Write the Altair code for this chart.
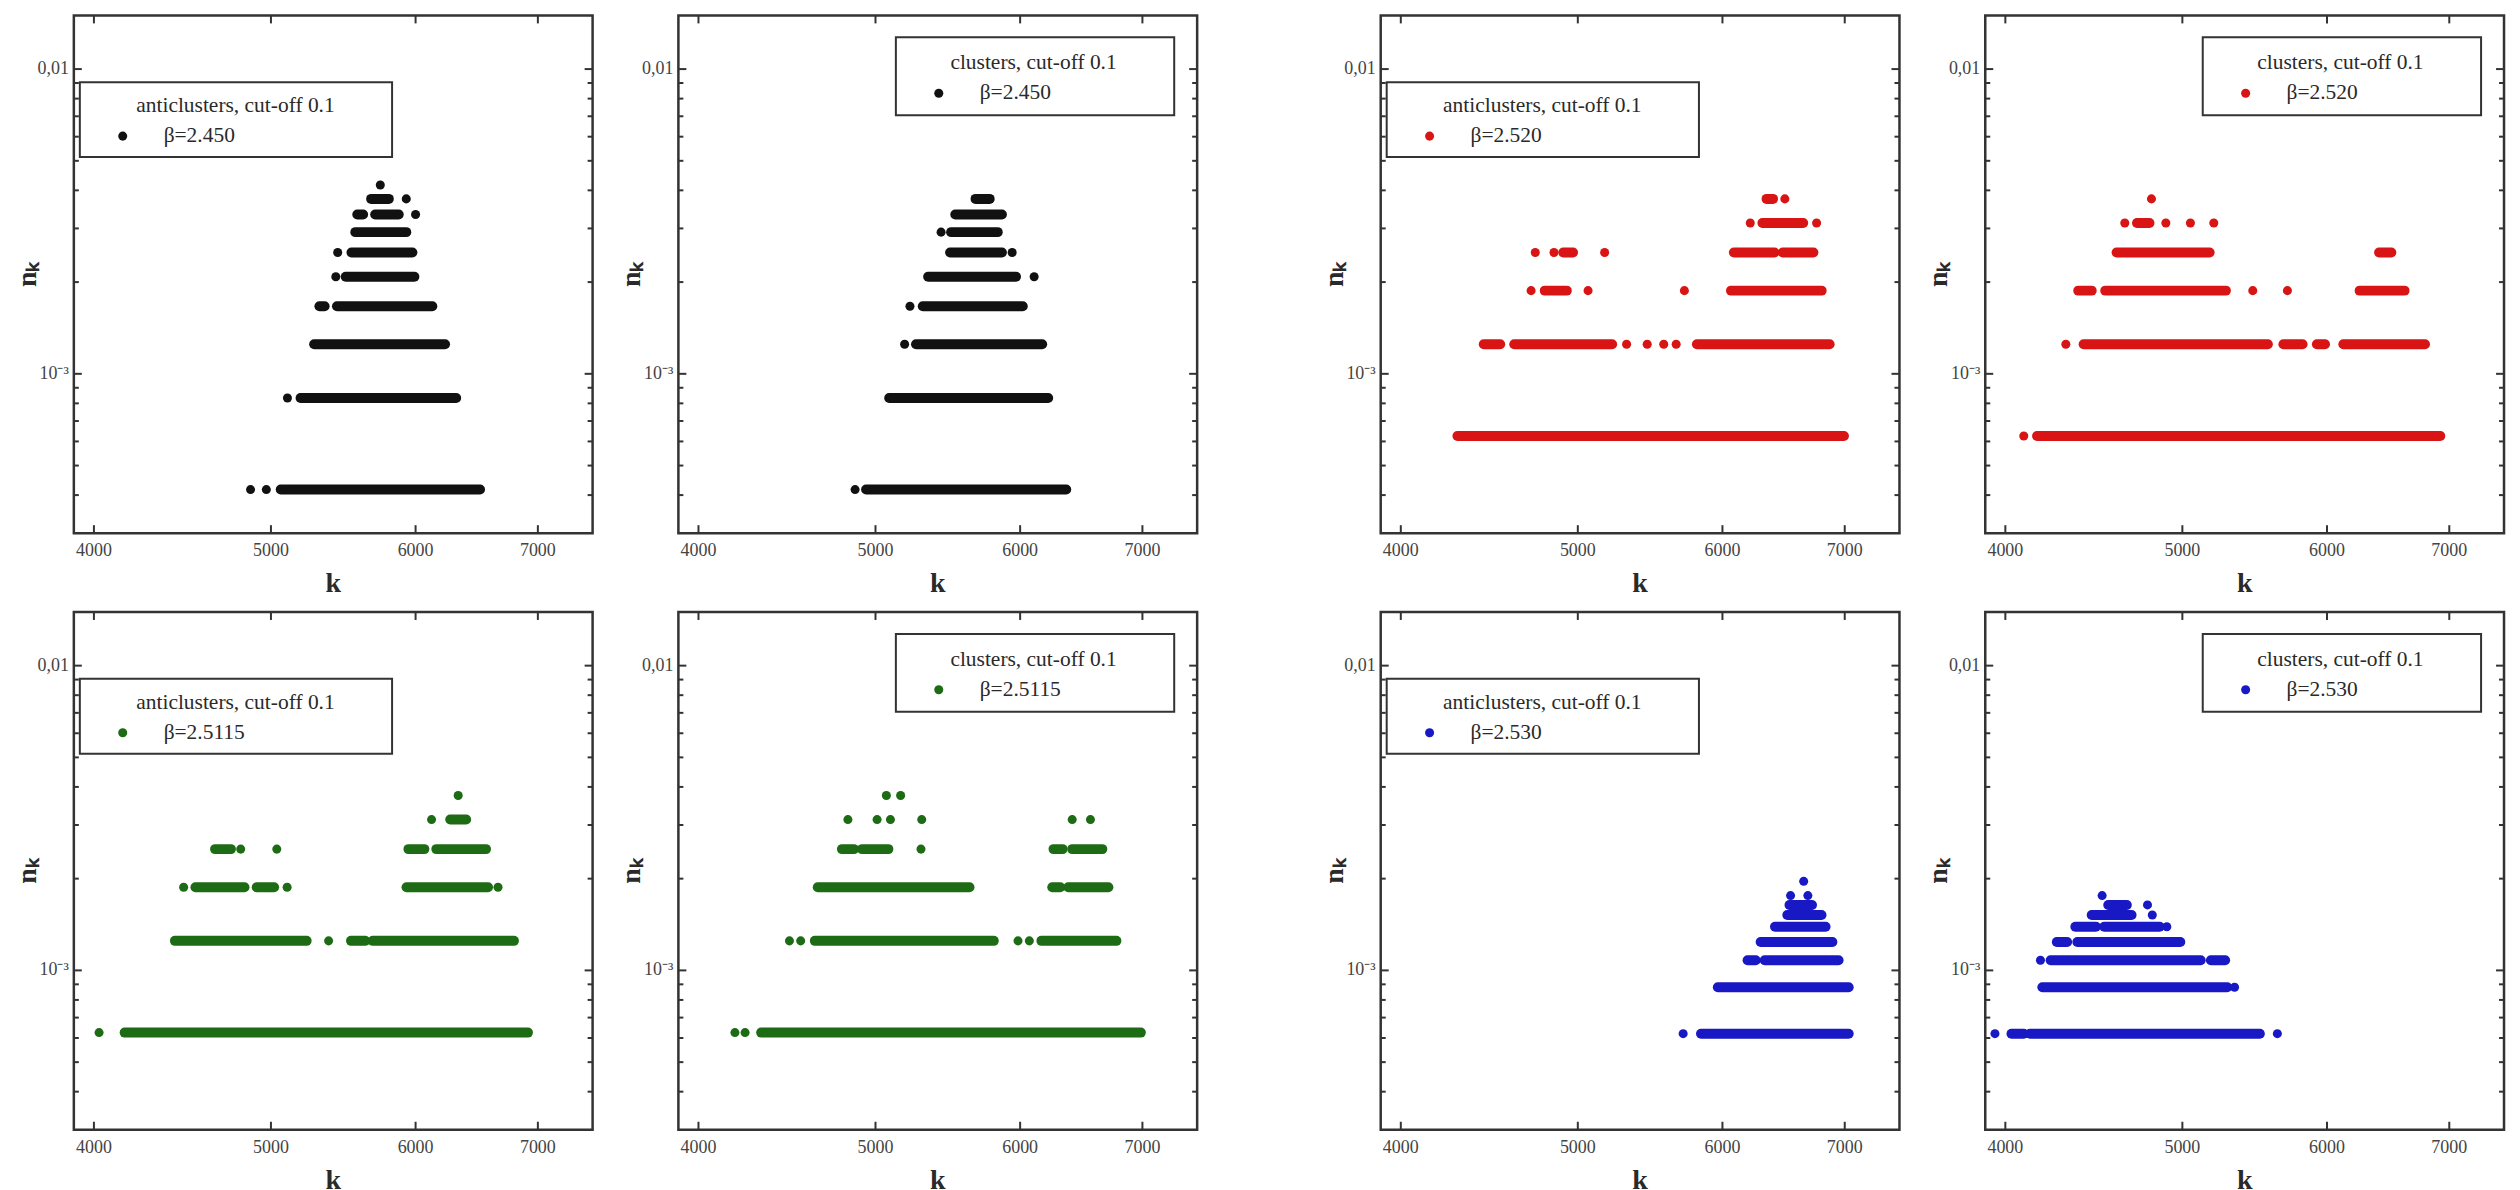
import altair as alt
import pandas as pd

# ---------------- axis values ----------------
K_DOMAIN = [3900, 7500]
N_DOMAIN = [0.0003, 0.015]
K_TICKS = [4000, 5000, 6000, 7000]
K_TICK_LABELS = ["4000", "5000", "6000", "7000"]
N_TICKS = [0.001, 0.01]
N_TICK_LABELS = ["10⁻³", "0,01"]
N_MINOR = [0.0004, 0.0005, 0.0006, 0.0007, 0.0008, 0.0009,
           0.002, 0.003, 0.004, 0.005, 0.006, 0.007, 0.008, 0.009]

# ---------------- n_k levels ----------------
LEVELS_BLACK = [0.000417, 0.000833, 0.00125, 0.001667, 0.002083,
                0.0025, 0.002917, 0.003333, 0.00375, 0.004167]
LEVELS_RG = [0.000625, 0.00125, 0.001875, 0.0025, 0.003125, 0.00375]
LEVELS_BLUE = [0.00062, 0.00088, 0.00108, 0.00124, 0.00139,
               0.00152, 0.00164, 0.00176, 0.00186, 0.00196]

# ---------------- runs of k per level: [k_first, k_last] ----------------
ANTI_2450 = {
    1: [[4873, 4873], [4971, 4971], [5062, 6508]],
    2: [[5105, 5105], [5190, 6315]],
    3: [[5280, 6227]],
    4: [[5315, 5350], [5434, 6128]],
    5: [[5426, 5426], [5494, 5991]],
    6: [[5439, 5439], [5534, 5976]],
    7: [[5561, 5930]],
    8: [[5575, 5616], [5702, 5874], [6000, 6000]],
    9: [[5673, 5801], [5930, 5930]],
    10: [[5739, 5739]],
}
CLUS_2450 = {
    1: [[4873, 4873], [4941, 6359]],
    2: [[5087, 6216]],
    3: [[5187, 5187], [5262, 6169]],
    4: [[5222, 5222], [5307, 6020]],
    5: [[5343, 5969], [6107, 6107]],
    6: [[5493, 5864], [5940, 5940]],
    7: [[5431, 5431], [5500, 5833]],
    8: [[5529, 5864]],
    9: [[5672, 5774]],
}
ANTI_2520 = {
    1: [[4296, 6993]],
    2: [[4441, 4534], [4615, 5221], [5317, 5317], [5457, 5457], [5572, 5572],
        [5660, 5660], [5810, 6868]],
    3: [[4714, 4714], [4796, 4931], [5065, 5065], [5719, 5719], [6065, 6799]],
    4: [[4739, 4739], [4852, 4852], [4909, 4970], [5172, 5172], [6087, 6407],
        [6474, 6729]],
    5: [[6214, 6214], [6310, 6643], [6756, 6756]],
    6: [[6343, 6395], [6491, 6491]],
}
CLUS_2520 = {
    1: [[4094, 4094], [4163, 6921]],
    2: [[4317, 4317], [4415, 5569], [5679, 5818], [5924, 5985], [6125, 6789]],
    3: [[4385, 4460], [4537, 5282], [5464, 5464], [5708, 5708], [6252, 6616]],
    4: [[4602, 5175], [6407, 6507]],
    5: [[4650, 4650], [4722, 4797], [4897, 4897], [5051, 5051], [5202, 5202]],
    6: [[4809, 4809]],
}
ANTI_25115 = {
    1: [[4026, 4026], [4158, 6913]],
    2: [[4430, 5230], [5377, 5377], [5531, 5630], [5685, 6792]],
    3: [[4479, 4479], [4546, 4836], [4911, 5020], [5103, 5103], [5932, 6574],
        [6657, 6657]],
    4: [[4660, 4754], [4813, 4813], [5037, 5037], [5946, 6067], [6159, 6557]],
    5: [[6122, 6122], [6268, 6395]],
    6: [[6331, 6331]],
}
CLUS_25115 = {
    1: [[4188, 4188], [4242, 4242], [4329, 6986]],
    2: [[4486, 4486], [4550, 4550], [4632, 5804], [5984, 5984], [6070, 6070],
        [6163, 6774]],
    3: [[4649, 5629], [6248, 6311], [6375, 6706]],
    4: [[4793, 4866], [4916, 5082], [5295, 5295], [6258, 6330], [6407, 6655]],
    5: [[4829, 4829], [5010, 5010], [5095, 5095], [5300, 5300], [6407, 6407],
        [6556, 6556]],
    6: [[5069, 5069], [5161, 5161]],
}
ANTI_2530 = {
    1: [[5710, 5710], [5840, 7035]],
    2: [[5965, 7035]],
    3: [[6193, 6257], [6328, 6946]],
    4: [[6296, 6892]],
    5: [[6411, 6833]],
    6: [[6511, 6798]],
    7: [[6529, 6717]],
    8: [[6538, 6538], [6682, 6682]],
    10: [[6647, 6647]],
}
CLUS_2530 = {
    1: [[3948, 3948], [4031, 4094], [4126, 5513], [5636, 5636]],
    2: [[4191, 5291], [5340, 5340]],
    3: [[4181, 4181], [4235, 5117], [5183, 5277]],
    4: [[4268, 4324], [4380, 4987]],
    5: [[4369, 4484], [4531, 4859], [4903, 4903]],
    6: [[4460, 4690], [4814, 4814]],
    7: [[4554, 4662], [4785, 4785]],
    8: [[4519, 4519]],
}

BLACK = "#111111"
RED = "#d81414"
GREEN = "#1d6b14"
BLUE = "#1818c4"
FRAME = "#333333"
TXT = "#2a2a2a"
LBL = "#444444"
SERIF = "Liberation Serif"

W, H = 520, 519


def runs_frame(runs, levels):
    rows = []
    for lvl, segs in runs.items():
        for k0, k1 in segs:
            rows.append({"n": levels[lvl - 1], "k0": k0, "k1": k1})
    return pd.DataFrame(rows)


def panel(runs, levels, color, kind, beta):
    df = runs_frame(runs, levels)
    xs = alt.Scale(type="log", domain=K_DOMAIN, nice=False)
    ys = alt.Scale(type="log", domain=N_DOMAIN, nice=False)
    base = alt.Chart(df)

    seg = base.transform_filter("datum.k1 > datum.k0").mark_rule(
        strokeWidth=10, strokeCap="round", color=color
    ).encode(
        x=alt.X("k0:Q", scale=xs, axis=None),
        x2="k1:Q",
        y=alt.Y("n:Q", scale=ys, axis=None),
    )
    dots = base.transform_filter("datum.k1 == datum.k0").mark_circle(
        size=82, opacity=1, color=color
    ).encode(
        x=alt.X("k0:Q", scale=xs, axis=None),
        y=alt.Y("n:Q", scale=ys, axis=None),
    )

    kt = alt.Chart(pd.DataFrame({"k": K_TICKS, "label": K_TICK_LABELS}))
    nt = alt.Chart(pd.DataFrame({"n": N_TICKS, "label": N_TICK_LABELS}))
    mt = alt.Chart(pd.DataFrame({"n": N_MINOR}))
    xk = alt.X("k:Q", scale=xs, axis=None)
    yn = alt.Y("n:Q", scale=ys, axis=None)
    tick = dict(color=FRAME, strokeWidth=2)
    xt_b = kt.mark_rule(**tick).encode(x=xk, y=alt.value(H), y2=alt.value(H - 8))
    xt_t = kt.mark_rule(**tick).encode(x=xk, y=alt.value(0), y2=alt.value(8))
    yt_l = nt.mark_rule(**tick).encode(y=yn, x=alt.value(0), x2=alt.value(8))
    yt_r = nt.mark_rule(**tick).encode(y=yn, x=alt.value(W - 8), x2=alt.value(W))
    ym_l = mt.mark_rule(**tick).encode(y=yn, x=alt.value(0), x2=alt.value(5))
    ym_r = mt.mark_rule(**tick).encode(y=yn, x=alt.value(W - 5), x2=alt.value(W))

    # tick labels and axis titles
    xl = kt.mark_text(font=SERIF, fontSize=18, color=LBL, align="center",
                      baseline="middle").encode(
        x=xk, y=alt.value(H + 18), text="label:N")
    yl = nt.mark_text(font=SERIF, fontSize=18, color=LBL, align="right",
                      baseline="middle").encode(
        y=yn, x=alt.value(-5), text="label:N")
    one = alt.Chart(pd.DataFrame({"t": [0]}))
    xtitle = one.mark_text(text="k", font=SERIF, fontSize=28, fontWeight="bold",
                           color=TXT, align="center", baseline="middle").encode(
        x=alt.value(W / 2), y=alt.value(H + 51))
    ytitle = one.mark_text(text="nₖ", font=SERIF, fontSize=28, fontWeight="bold",
                           color=TXT, align="center", baseline="middle",
                           angle=270).encode(
        x=alt.value(-46), y=alt.value(H / 2))

    if kind == "anti":
        title = "anticlusters, cut-off 0.1"
        bx0, bx1, by0, by1 = 6, 319, 67, 142
        tx, ty, dx, dy, lx = 162, 91, 49, 121, 90
    else:
        title = "clusters, cut-off 0.1"
        bx0, bx1, by0, by1 = 218, 497, 22, 100
        tx, ty, dx, dy, lx = 356, 48, 261, 78, 302
    box = one.mark_rect(fill="white", stroke=FRAME, strokeWidth=2).encode(
        x=alt.value(bx0), x2=alt.value(bx1), y=alt.value(by0), y2=alt.value(by1))
    ttl = one.mark_text(text=title, font=SERIF, fontSize=21.5, align="center",
                        baseline="middle", color=TXT).encode(
        x=alt.value(tx), y=alt.value(ty))
    ldot = one.mark_circle(size=82, color=color, opacity=1).encode(
        x=alt.value(dx), y=alt.value(dy))
    lab = one.mark_text(text="β=" + beta, font=SERIF, fontSize=21.5, align="left",
                        baseline="middle", color=TXT).encode(
        x=alt.value(lx), y=alt.value(dy))

    return alt.layer(seg, dots, xt_b, xt_t, yt_l, yt_r, ym_l, ym_r,
                     xl, yl, xtitle, ytitle,
                     box, ttl, ldot, lab).properties(width=W, height=H)


def spacer():
    return alt.Chart(pd.DataFrame({"t": [0]})).mark_point(opacity=0).encode(
        x=alt.value(0), y=alt.value(0)
    ).properties(width=12, height=H, view=alt.ViewBackground(stroke="transparent"))


charts = [
    panel(ANTI_2450, LEVELS_BLACK, BLACK, "anti", "2.450"),
    panel(CLUS_2450, LEVELS_BLACK, BLACK, "clus", "2.450"),
    spacer(),
    panel(ANTI_2520, LEVELS_RG, RED, "anti", "2.520"),
    panel(CLUS_2520, LEVELS_RG, RED, "clus", "2.520"),
    panel(ANTI_25115, LEVELS_RG, GREEN, "anti", "2.5115"),
    panel(CLUS_25115, LEVELS_RG, GREEN, "clus", "2.5115"),
    spacer(),
    panel(ANTI_2530, LEVELS_BLUE, BLUE, "anti", "2.530"),
    panel(CLUS_2530, LEVELS_BLUE, BLUE, "clus", "2.530"),
]

chart = alt.concat(
    *charts, columns=5, spacing={"row": 79, "column": 86},
    bounds="flush", align="each"
).properties(
    padding={"left": 4, "top": 2, "right": 5, "bottom": 2}, background="white"
).configure_view(
    stroke=FRAME, strokeWidth=2.5
)

chart.save("out.html", embed_options={"renderer": "svg", "actions": False})
